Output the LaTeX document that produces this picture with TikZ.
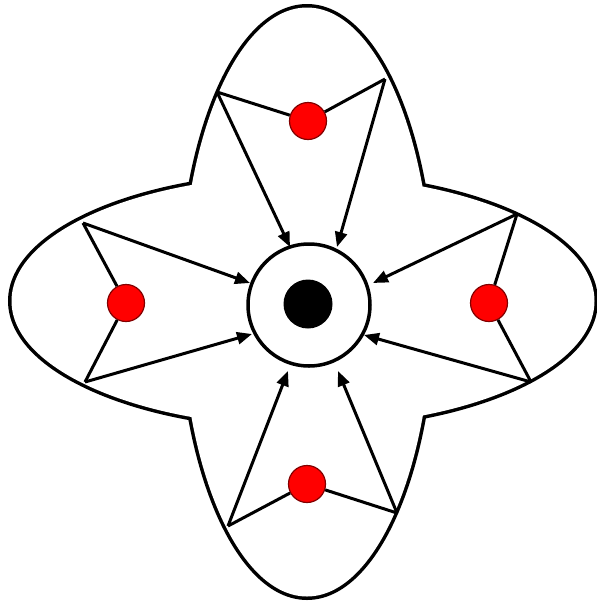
\documentclass[tikz,border=0pt]{standalone}
\usetikzlibrary{arrows.meta}
\definecolor{dotred}{RGB}{255,0,0}
\definecolor{dotrim}{RGB}{130,0,0}
\tikzset{
  outline/.style={line width=7pt},
  reddot/.style={circle,fill=dotred,draw=dotrim,line width=1.2pt,minimum size=37pt,inner sep=0pt},
  spoke/.style={line width=3pt},
  arr/.style={line width=3pt,-{Triangle[length=15pt,width=12pt]}},
}
\begin{document}
\begin{tikzpicture}[x=1pt,y=-1pt]
\useasboundingbox (0,0) rectangle (597,603);
% outer cross-shaped outline: union of two ellipses
\draw[outline] (303,301) ellipse [x radius=291.5pt, y radius=125.5pt];
\draw[outline] (307,302) ellipse [x radius=125.5pt, y radius=294.5pt];
\fill[white] (303,301) ellipse [x radius=291.5pt, y radius=125.5pt];
\fill[white] (307,302) ellipse [x radius=125.5pt, y radius=294.5pt];
% centre
\node[circle,draw,line width=3.5pt,minimum size=122pt,inner sep=0pt] (core) at (309,305) {};
\node[circle,fill=black,minimum size=49pt,inner sep=0pt] (nucleus) at (308,304) {};
% red dots
\node[reddot] (dtop) at (308,121) {};
\node[reddot] (dleft) at (126,303) {};
\node[reddot] (dright) at (489,303) {};
\node[reddot] (dbot) at (307,484) {};
% vertices
\coordinate (t1) at (217,92);
\coordinate (t2) at (385,79);
\coordinate (l1) at (83,223);
\coordinate (l2) at (85,382);
\coordinate (r1) at (517,214);
\coordinate (r2) at (531,382);
\coordinate (b1) at (228,526);
\coordinate (b2) at (397,513);
% arrow tips
\coordinate (tt1) at (290,247);
\coordinate (tt2) at (337,247);
\coordinate (lt1) at (250,283);
\coordinate (lt2) at (252,334);
\coordinate (rt1) at (373,283);
\coordinate (rt2) at (364,335);
\coordinate (bt1) at (288,371);
\coordinate (bt2) at (338,371);
% spokes to dots
\draw[spoke] (t1) -- (dtop);
\draw[spoke] (t2) -- (dtop);
\draw[spoke] (l1) -- (dleft);
\draw[spoke] (l2) -- (dleft);
\draw[spoke] (r1) -- (dright);
\draw[spoke] (r2) -- (dright);
\draw[spoke] (b1) -- (dbot);
\draw[spoke] (b2) -- (dbot);
% arrows
\draw[arr] (t1) -- (tt1);
\draw[arr] (t2) -- (tt2);
\draw[arr] (l1) -- (lt1);
\draw[arr] (l2) -- (lt2);
\draw[arr] (r1) -- (rt1);
\draw[arr] (r2) -- (rt2);
\draw[arr] (b1) -- (bt1);
\draw[arr] (b2) -- (bt2);
\end{tikzpicture}
\end{document}
